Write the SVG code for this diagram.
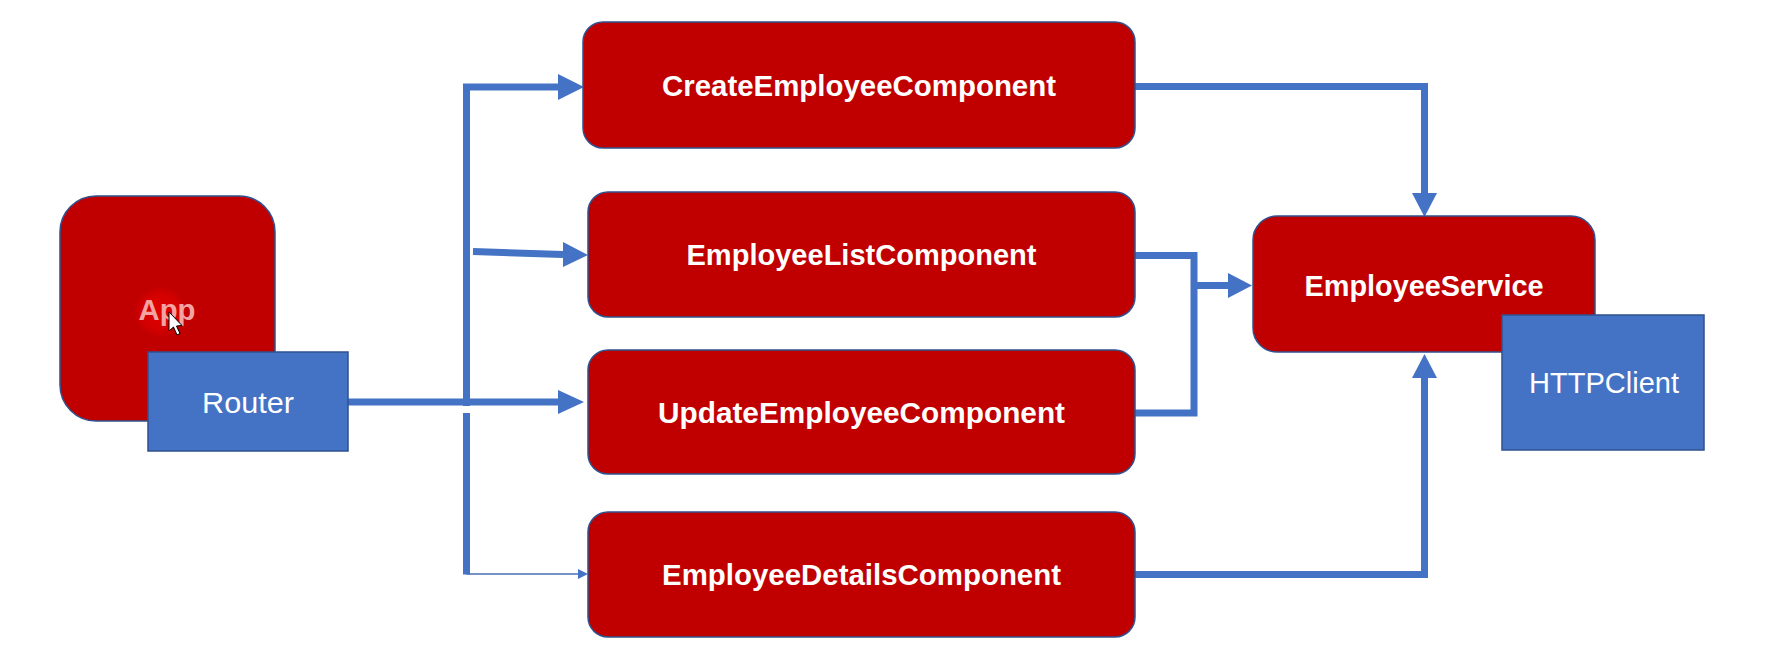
<svg xmlns="http://www.w3.org/2000/svg" width="1781" height="669" viewBox="0 0 1781 669">
<defs>
<style>
.red{fill:#C00000;stroke:#2F528F;stroke-width:1.5}
.blue{fill:#4472C4;stroke:#2F528F;stroke-width:1.5}
.lbl{font-family:"Liberation Sans",Arial,sans-serif;font-weight:bold;font-size:29px;fill:#FFFFFF;text-anchor:middle}
.lblr{font-family:"Liberation Sans",Arial,sans-serif;font-size:29px;fill:#FFFFFF;text-anchor:middle}
.wire{fill:none;stroke:#4472C4;stroke-width:7;stroke-linejoin:miter;stroke-linecap:butt}
.thin{fill:none;stroke:#4A6FB5;stroke-width:1.5}
.head{fill:#4472C4}
</style>
<radialGradient id="glow" cx="0.5" cy="0.5" r="0.5">
<stop offset="0" stop-color="#E00000"/>
<stop offset="0.7" stop-color="#D40000"/>
<stop offset="1" stop-color="#C00000"/>
</radialGradient>
</defs>
<rect width="1781" height="669" fill="#FFFFFF"/>

<g id="connectors">
<path class="wire" d="M348 402 H558"/>
<polygon class="head" points="558,390 584,402 558,414"/>
<path class="wire" d="M466.5 406 V87 H558"/>
<polygon class="head" points="558,74 584,87 558,100"/>
<path class="wire" d="M473 251.5 L563 254.5"/>
<polygon class="head" points="563,242 588,255 563,267"/>
<path class="wire" d="M466.5 413 V574.5"/>
<path class="thin" d="M466.5 574 H579"/>
<polygon class="head" points="578,569 588,574 578,579"/>
<path class="wire" d="M1135 86.5 H1424.5 V193"/>
<polygon class="head" points="1412,193 1424.5,217 1437,193"/>
<path class="wire" d="M1135 255.5 H1194 V413 H1135"/>
<path class="wire" d="M1194 285.5 H1228"/>
<polygon class="head" points="1228,273 1252,285.5 1228,298"/>
<path class="wire" d="M1135 574.5 H1424.5 V378"/>
<polygon class="head" points="1412,378 1424.5,354 1437,378"/>
</g>

<g id="app">
<rect class="red" x="60" y="196" width="215" height="225" rx="36"/>
<circle cx="160" cy="312" r="26" fill="url(#glow)"/>
<text class="lbl" x="167" y="320" textLength="57" lengthAdjust="spacingAndGlyphs" style="fill:#F4A3A3">App</text>
<polygon points="169,312 169,331 173.5,327 177,335 180,333.5 176.5,326 182,325.5" fill="#FFFFFF" stroke="#000000" stroke-width="1"/>
</g>
<g id="router">
<rect class="blue" x="148" y="352" width="200" height="99"/>
<text class="lblr" x="248" y="413" textLength="92" lengthAdjust="spacingAndGlyphs">Router</text>
</g>

<g id="create">
<rect class="red" x="583" y="22" width="552" height="126" rx="20"/>
<text class="lbl" x="859" y="96" textLength="394" lengthAdjust="spacingAndGlyphs">CreateEmployeeComponent</text>
</g>
<g id="list">
<rect class="red" x="588" y="192" width="547" height="125" rx="20"/>
<text class="lbl" x="861.5" y="265" textLength="350" lengthAdjust="spacingAndGlyphs">EmployeeListComponent</text>
</g>
<g id="update">
<rect class="red" x="588" y="350" width="547" height="124" rx="20"/>
<text class="lbl" x="861.5" y="423" textLength="407" lengthAdjust="spacingAndGlyphs">UpdateEmployeeComponent</text>
</g>
<g id="details">
<rect class="red" x="588" y="512" width="547" height="125" rx="20"/>
<text class="lbl" x="861.5" y="585" textLength="399" lengthAdjust="spacingAndGlyphs">EmployeeDetailsComponent</text>
</g>

<g id="service">
<rect class="red" x="1253" y="216" width="342" height="136" rx="24"/>
<text class="lbl" x="1424" y="296" textLength="239" lengthAdjust="spacingAndGlyphs">EmployeeService</text>
</g>
<g id="httpclient">
<rect class="blue" x="1502" y="315" width="202" height="135"/>
<text class="lblr" x="1604" y="393" textLength="150" lengthAdjust="spacingAndGlyphs">HTTPClient</text>
</g>
</svg>
